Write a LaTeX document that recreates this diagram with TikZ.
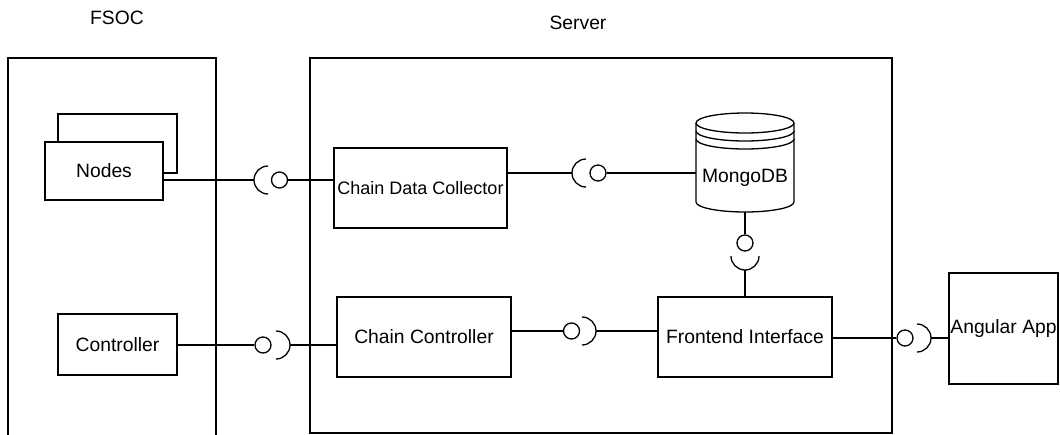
\documentclass[tikz,border=0pt]{standalone}
\usepackage{fontspec}
\setmainfont{Liberation Sans}
\tikzset{
  wire/.style={line width=1.3pt},
  comp/.style={draw, line width=1.3pt, fill=white, inner sep=0pt,
    font=\fontsize{19.3}{22}\selectfont},
  ball/.style={draw, circle, line width=1.3pt, fill=white,
    minimum size=16pt, inner sep=0pt},
  caption/.style={font=\fontsize{19.3}{22}\selectfont, inner sep=0pt},
}
\begin{document}
\begin{tikzpicture}[x=1pt, y=-1pt]
\useasboundingbox (0,0) rectangle (1060,434);

% group captions
\node[caption] (fsoclabel) at (117,18) {FSOC};
\node[caption] (serverlabel) at (578,23) {Server};

% group frames
\draw[wire] (8,440) -- (8,58) -- (216,58) -- (216,440);
\draw[wire] (310,58) rectangle (892,433);

% FSOC components
\node[comp, minimum width=119pt, minimum height=59pt] (nodesback) at (117.5,143.5) {};
\node[comp, minimum width=118pt, minimum height=58pt] (nodes) at (104,171) {Nodes};
\node[comp, minimum width=119pt, minimum height=61pt] (ctrl) at (117.5,344.5) {Controller};

% server components
\node[comp, minimum width=173pt, minimum height=80pt,
  font=\fontsize{18}{21}\selectfont] (cdc) at (420.5,188) {Chain Data Collector};
\node[comp, minimum width=174pt, minimum height=80pt] (cc) at (424,337) {Chain Controller};
\node[comp, minimum width=174pt, minimum height=80pt] (fi) at (745,337) {Frontend Interface};

% database cylinder
\draw[wire, fill=white] (696,123) -- (696,202)
  arc[start angle=180, end angle=0, x radius=49, y radius=10] -- (794,123);
\draw[wire] (745,123) ellipse [x radius=49, y radius=10];
\draw[wire] (696,131) arc[start angle=180, end angle=0, x radius=49, y radius=10];
\draw[wire] (696,139) arc[start angle=180, end angle=0, x radius=49, y radius=10];
\node[caption] (mongo) at (745,178) {MongoDB};
\coordinate (mongoleft) at (696,173);
\coordinate (mongobot) at (745,212);

% external client
\node[comp, minimum width=109pt, minimum height=111pt] (aa) at (1003.5,328.5) {Angular App};

% provided interfaces (balls)
\node[ball] (b1) at (279.5,180) {};
\node[ball] (b2) at (263,345) {};
\node[ball] (b3) at (598,173) {};
\node[ball] (b4) at (571.5,331) {};
\node[ball] (b5) at (745,243) {};
\node[ball] (b6) at (905,338) {};

% required interfaces (sockets), outermost points
\coordinate (sk1) at (254,180);
\coordinate (sk2) at (290,345);
\coordinate (sk3) at (572,173);
\coordinate (sk4) at (596,331);
\coordinate (sk5) at (745,270);
\coordinate (sk6) at (931,338);

\draw[wire] (sk1) arc[start angle=180, end angle=90, radius=14]
            (sk1) arc[start angle=180, end angle=270, radius=14];
\draw[wire] (sk3) arc[start angle=180, end angle=90, radius=14]
            (sk3) arc[start angle=180, end angle=270, radius=14];
\draw[wire] (sk2) arc[start angle=0, end angle=90, radius=14]
            (sk2) arc[start angle=0, end angle=-90, radius=14];
\draw[wire] (sk4) arc[start angle=0, end angle=90, radius=14]
            (sk4) arc[start angle=0, end angle=-90, radius=14];
\draw[wire] (sk6) arc[start angle=0, end angle=90, radius=14]
            (sk6) arc[start angle=0, end angle=-90, radius=14];
\draw[wire] (sk5) arc[start angle=90, end angle=0, radius=14]
            (sk5) arc[start angle=90, end angle=180, radius=14];

% connectors
\draw[wire] (nodes.east |- sk1) -- (sk1);
\draw[wire] (b1) -- (cdc.west |- b1);
\draw[wire] (ctrl.east |- b2) -- (b2);
\draw[wire] (sk2) -- (cc.west |- sk2);
\draw[wire] (cdc.east |- sk3) -- (sk3);
\draw[wire] (b3) -- (mongoleft);
\draw[wire] (cc.east |- b4) -- (b4);
\draw[wire] (sk4) -- (fi.west |- sk4);
\draw[wire] (mongobot) -- (b5);
\draw[wire] (sk5) -- (fi.north);
\draw[wire] (fi.east |- b6) -- (b6);
\draw[wire] (sk6) -- (aa.west |- sk6);
\end{tikzpicture}
\end{document}
